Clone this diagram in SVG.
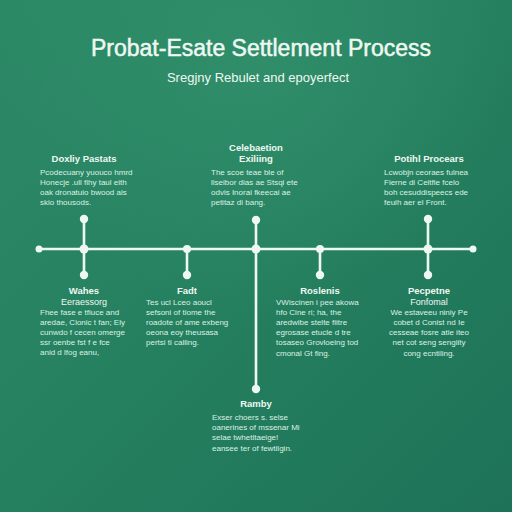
<svg xmlns="http://www.w3.org/2000/svg" width="512" height="512" viewBox="0 0 512 512">
<defs>
<linearGradient id="bg" x1="0" y1="0" x2="1" y2="1">
<stop offset="0" stop-color="#2c8966"/>
<stop offset="0.5" stop-color="#25805f"/>
<stop offset="1" stop-color="#1d7257"/>
</linearGradient>
<radialGradient id="glow" cx="0.5" cy="0.12" r="0.5">
<stop offset="0" stop-color="#3a9a74" stop-opacity="0.45"/>
<stop offset="1" stop-color="#3a9a74" stop-opacity="0"/>
</radialGradient>
<style>
.t{font-family:"Liberation Sans","DejaVu Sans",sans-serif;fill:#eef8f2}
.title{font-size:23px;text-anchor:middle;stroke:#eef8f2;stroke-width:0.5}
.sub{font-size:13px;text-anchor:middle}
.h{font-size:9.5px;font-weight:bold;text-anchor:middle}
.h2{font-size:9px;text-anchor:middle}
.b{font-size:8px;fill:#dcf1e6}
.bc{font-size:8px;fill:#dcf1e6;text-anchor:middle}
.ln{stroke:#eef8f2;stroke-width:2.6;fill:none;stroke-linecap:round}
.dot{fill:#eef8f2}
</style>
</defs>
<rect width="512" height="512" fill="url(#bg)"/>
<rect width="512" height="512" fill="url(#glow)"/>

<text class="t title" x="261" y="56">Probat-Esate Settlement Process</text>
<text class="t sub" x="258" y="82">Sregjny Rebulet and epoyerfect</text>

<g id="connectors">
<line class="ln" x1="39" y1="249" x2="473" y2="249"/>
<line class="ln" x1="84" y1="219" x2="84" y2="275"/>
<line class="ln" x1="187" y1="249" x2="187" y2="275"/>
<line class="ln" x1="256" y1="220" x2="256" y2="389"/>
<line class="ln" x1="320" y1="249" x2="320" y2="275"/>
<line class="ln" x1="428" y1="219" x2="428" y2="275"/>
<circle class="dot" cx="39" cy="249" r="3.5"/>
<circle class="dot" cx="473" cy="249" r="3.5"/>
<circle class="dot" cx="84" cy="249" r="4.5"/>
<circle class="dot" cx="187" cy="249" r="4"/>
<circle class="dot" cx="256" cy="249" r="4.5"/>
<circle class="dot" cx="320" cy="249" r="4"/>
<circle class="dot" cx="428" cy="249" r="4.5"/>
</g>

<g id="n1">
<circle class="dot" cx="84" cy="219" r="4.2"/>
<text class="t h" x="84" y="162">Doxliy Pastats</text>
<text class="t b" x="40" y="175">Pcodecuany yuouco hmrd</text>
<text class="t b" x="40" y="185">Honecje .ull fihy taul eith</text>
<text class="t b" x="40" y="195">oak dronatuio bwood ais</text>
<text class="t b" x="40" y="205">skio thousods.</text>
</g>

<g id="n2">
<circle class="dot" cx="256" cy="220" r="4.2"/>
<text class="t h" x="256" y="151">Celebaetion</text>
<text class="t h" x="256" y="162">Exiliing</text>
<text class="t b" x="211" y="175">The scoe teae ble of</text>
<text class="t b" x="211" y="185">liseibor dias ae Stsqi ete</text>
<text class="t b" x="211" y="195">odvis Inorai fkeecai ae</text>
<text class="t b" x="211" y="205">petitaz di bang.</text>
</g>

<g id="n3">
<circle class="dot" cx="428" cy="219" r="4.2"/>
<text class="t h" x="429" y="162">Potihl Procears</text>
<text class="t b" x="384" y="175">Lcwobjn ceoraes fulnea</text>
<text class="t b" x="384" y="185">Fierne di Ceitfie fcelo</text>
<text class="t b" x="384" y="195">boh cesuddispeecs ede</text>
<text class="t b" x="384" y="205">feuih aer el Front.</text>
</g>

<g id="n4">
<circle class="dot" cx="84" cy="275" r="4.2"/>
<text class="t h" x="84" y="294">Wahes</text>
<text class="t h2" x="84" y="305">Eeraessorg</text>
<text class="t b" x="40" y="315">Fhee fase e tfiuce and</text>
<text class="t b" x="40" y="325">aredae, Cionic t fan; Ely</text>
<text class="t b" x="40" y="335">cunwdo f cecen omerge</text>
<text class="t b" x="40" y="345">ssr oenbe fst f e fce</text>
<text class="t b" x="40" y="355">anid d lfog eanu,</text>
</g>

<g id="n5">
<circle class="dot" cx="187" cy="275" r="4.2"/>
<text class="t h" x="187" y="294">Fadt</text>
<text class="t b" x="146" y="305">Tes ucl Lceo aoucl</text>
<text class="t b" x="146" y="315">sefsoni of tiome the</text>
<text class="t b" x="146" y="325">roadote of ame exbeng</text>
<text class="t b" x="146" y="335">oeona eoy theusasa</text>
<text class="t b" x="146" y="345">pertsi ti calling.</text>
</g>

<g id="n6">
<circle class="dot" cx="320" cy="275" r="4.2"/>
<text class="t h" x="320" y="294">Roslenis</text>
<text class="t b" x="276" y="305">VWiscinen i pee akowa</text>
<text class="t b" x="276" y="315">hfo Cine ri; ha, the</text>
<text class="t b" x="276" y="325">aredwibe stelte fiitre</text>
<text class="t b" x="276" y="335">egrosase etucle d tre</text>
<text class="t b" x="276" y="345">tosaseo Grovloeing tod</text>
<text class="t b" x="276" y="356">cmonal Gt fing.</text>
</g>

<g id="n7">
<circle class="dot" cx="428" cy="275" r="4.2"/>
<text class="t h" x="429" y="294">Pecpetne</text>
<text class="t h2" x="429" y="305">Fonfomal</text>
<text class="t bc" x="429" y="315">We estaveeu niniy Pe</text>
<text class="t bc" x="429" y="325">cobet d Conist nd Ie</text>
<text class="t bc" x="429" y="335">cesseae fosre atie iteo</text>
<text class="t bc" x="429" y="345">net cot seng sengiity</text>
<text class="t bc" x="429" y="356">cong ecntiling.</text>
</g>

<g id="n8">
<circle class="dot" cx="256" cy="389" r="4.2"/>
<text class="t h" x="256" y="407">Ramby</text>
<text class="t b" x="212" y="420">Exser choers s. selse</text>
<text class="t b" x="212" y="430">oanerines of mssenar Mi</text>
<text class="t b" x="212" y="440">selae twhetltaeige!</text>
<text class="t b" x="212" y="451">eansee ter of fewtilgin.</text>
</g>
</svg>
